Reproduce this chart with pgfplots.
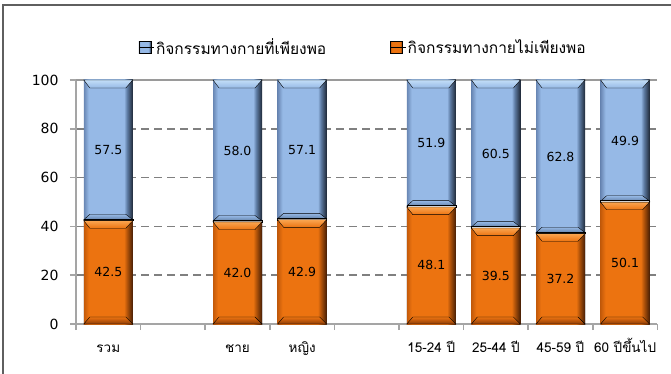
\documentclass[border=0pt]{standalone}
\usepackage{pgfplots}
\usepackage{pgfplotstable}
\pgfplotsset{compat=1.18}
\usepackage{fontspec}
\setmainfont{DejaVu Sans}
\newfontfamily\thai[Script=Thai]{Loma}

% bevelled bar colours
\definecolor{bM}{RGB}{150,185,230}
\definecolor{bL}{RGB}{105,135,180}
\definecolor{bR}{RGB}{95,125,165}
\definecolor{bD}{RGB}{30,40,55}
\definecolor{bTop}{RGB}{195,222,248}
\definecolor{bBot}{RGB}{100,130,170}
\definecolor{oM}{RGB}{236,115,16}
\definecolor{oL}{RGB}{195,90,10}
\definecolor{oR}{RGB}{180,85,10}
\definecolor{oD}{RGB}{70,30,5}
\definecolor{oTop}{RGB}{250,165,80}
\definecolor{oBot}{RGB}{140,60,8}
\definecolor{gridgray}{RGB}{128,128,128}
\definecolor{axgray}{RGB}{165,165,165}
\definecolor{framegray}{RGB}{95,95,95}

\pgfdeclarehorizontalshading{blueBar}{100bp}{color(0bp)=(bL); color(25bp)=(bL); color(30bp)=(bM); color(66bp)=(bM); color(69bp)=(bR); color(75bp)=(bD); color(100bp)=(bD)}
\pgfdeclarehorizontalshading{orangeBar}{100bp}{color(0bp)=(oL); color(25bp)=(oL); color(30bp)=(oM); color(66bp)=(oM); color(69bp)=(oR); color(75bp)=(oD); color(100bp)=(oD)}

% bevel facets at the top and bottom of a bar segment
\pgfdeclareplotmark{bevTopB}{\path[top color=bTop, bottom color=bM]
  (-24.5bp,0bp) -- (24.5bp,0bp) -- (17.5bp,-8bp) -- (-18.5bp,-8bp) -- cycle;}
\pgfdeclareplotmark{bevBotB}{\path[bottom color=bBot, top color=bM]
  (-24.5bp,0.6bp) -- (24.5bp,0.6bp) -- (17.5bp,6bp) -- (-18.5bp,6bp) -- cycle;
  \path[fill=white!90!gray] (-24.5bp,-0.4bp) rectangle (24.5bp,1.2bp);}
\pgfdeclareplotmark{bevTopO}{\path[top color=oTop, bottom color=oM]
  (-24.5bp,-0.4bp) -- (24.5bp,-0.4bp) -- (17.5bp,-8bp) -- (-18.5bp,-8bp) -- cycle;}
\pgfdeclareplotmark{bevBotO}{\path[bottom color=oBot, top color=oM]
  (-24.5bp,0bp) -- (24.5bp,0bp) -- (17.5bp,7bp) -- (-18.5bp,7bp) -- cycle;}

% share of people with sufficient (b) / insufficient (o) physical activity
\pgfplotstableread{
x  o     b
0  42.5  57.5
2  42.0  58.0
3  42.9  57.1
5  48.1  51.9
6  39.5  60.5
7  37.2  62.8
8  50.1  49.9
}\activity

\pgfplotsset{
  barbase/.style={ybar, bar width=49bp, bar shift=0pt, draw=none, forget plot, shade},
  bluebar/.style={barbase, shading=blueBar},
  orangebar/.style={barbase, shading=orangeBar},
  bevel/.style={only marks, forget plot, mark=#1},
  barlabel/.style={only marks, mark=none, forget plot, point meta=explicit,
    nodes near coords={\pgfmathprintnumber[fixed,fixed zerofill,precision=1]{\pgfplotspointmeta}},
    every node near coord/.append style={anchor=center,
      font=\fontsize{12.5bp}{14bp}\selectfont, text=black}},
  legendbox/.style={legend image code/.code={
      \path[shade, shading=#1] (0bp,-6bp) rectangle (12bp,6bp);
      \path (0bp,0bp) -- (15bp,0bp);}},
}

\begin{document}
\begin{tikzpicture}
\begin{axis}[
  at={(76bp,50bp)}, anchor=south west,
  x=64.6bp, y=2.44bp,
  xmin=-0.5, xmax=8.5, ymin=0, ymax=100,
  clip=false,
  axis lines*=left,
  axis line style={axgray, line width=2bp, -},
  tick align=outside,
  major tick length=6bp,
  tick style={axgray, line width=1.5bp},
  xtick={-0.5,0.5,...,8.5}, xticklabels={},
  extra x ticks={0,2,3,5,6,7,8},
  extra x tick labels={รวม,ชาย,หญิง,15-24 ปี,25-44 ปี,45-59 ปี,60 ปีขึ้นไป},
  extra x tick style={major tick length=0pt},
  xticklabel style={font=\thai\fontsize{13.5bp}{15bp}\selectfont,
    text height=11bp, text depth=4bp, anchor=north, yshift=-14bp},
  ytick={0,20,40,60,80},
  extra y ticks={100},
  extra y tick style={major grid style={solid, gridgray!80, line width=1.5bp}},
  yticklabel style={font=\fontsize{14bp}{16bp}\selectfont, xshift=-8bp},
  /pgf/number format/assume math mode=true,
  ymajorgrids,
  major grid style={gridgray, line width=1.5bp, dash pattern=on 8bp off 5bp},
  legend columns=2,
  legend style={at={(0.494,1.135)}, anchor=center, draw=none, fill=none,
    font=\thai\fontsize{15.5bp}{17bp}\selectfont,
    /tikz/every even column/.append style={column sep=62bp}},
]
% one path per bar so that each bar gets its own bevel shading
\pgfplotsinvokeforeach{0,2,3,5,6,7,8}{
  \addplot[bluebar, restrict x to domain=#1:#1]
    table[x=x, y expr=\thisrow{o}+\thisrow{b}]{\activity};
  \addplot[orangebar, restrict x to domain=#1:#1]
    table[x=x, y=o]{\activity};
}
% top and bottom facets of each segment
\addplot[bevel=bevTopB] table[x=x, y expr=\thisrow{o}+\thisrow{b}]{\activity};
\addplot[bevel=bevBotB] table[x=x, y=o]{\activity};
\addplot[bevel=bevTopO] table[x=x, y=o]{\activity};
\addplot[bevel=bevBotO] table[x=x, y expr=0]{\activity};
% value labels in the middle of each segment
\addplot[barlabel] table[x=x, y expr=\thisrow{o}/2, meta=o]{\activity};
\addplot[barlabel] table[x=x, y expr=\thisrow{o}+\thisrow{b}/2, meta=b]{\activity};

\addlegendimage{legendbox=blueBar}
\addlegendentry{กิจกรรมทางกายที่เพียงพอ}
\addlegendimage{legendbox=orangeBar}
\addlegendentry{กิจกรรมทางกายไม่เพียงพอ}
\end{axis}
% chart frame
\draw[framegray, line width=1.5bp] (3bp,0bp) -- (3bp,369bp) -- (672bp,369bp);
\pgfresetboundingbox
\useasboundingbox (0bp,0bp) rectangle (671bp,374bp);
\end{tikzpicture}
\end{document}
